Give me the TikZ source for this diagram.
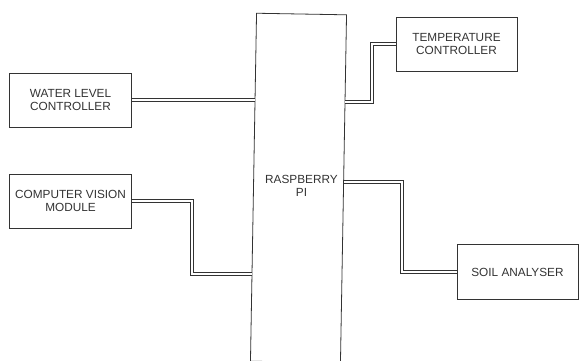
\documentclass[tikz,border=0pt]{standalone}
\usepackage{fontspec}
\setmainfont{Liberation Sans}
\usetikzlibrary{calc}

\tikzset{
  block/.style={draw=black!80, line width=0.8pt, minimum width=122pt, minimum height=54pt, align=center, inner sep=0pt},
  link/.style={draw=black!80, line width=1pt, double=white, double distance=2pt},
}

\begin{document}
\begin{tikzpicture}[x=1pt, y=-1pt, every node/.style={font=\fontsize{11.8}{13}\selectfont, text=black!80}]
% page
\clip (0,0) rectangle (579,360);
% raspberry pi (tilted a little, runs off the bottom)
\node[block, minimum width=90pt, minimum height=348pt, rotate=-1] (pi) at (298.5,188) {};
\node[align=center, inner sep=0pt] (pitext) at (301.5,186) {RASPBERRY\\PI};
% blocks round it
\node[block] (water) at (70.5,100) {WATER LEVEL\\CONTROLLER};
\node[block] (vision) at (70.5,201) {COMPUTER VISION\\MODULE};
\node[block, minimum width=121pt] (temp) at (456.5,44) {TEMPERATURE\\CONTROLLER};
\node[block, minimum width=121pt, minimum height=55pt] (soil) at (517.5,272) {SOIL ANALYSER};
% points on the pi edges
\coordinate (piw1) at ($(pi.north west)!0.2493!(pi.south west)$);
\coordinate (piw2) at ($(pi.north west)!0.7494!(pi.south west)$);
\coordinate (pie1) at ($(pi.north east)!0.2506!(pi.south east)$);
\coordinate (pie2) at ($(pi.north east)!0.4805!(pi.south east)$);
% links
\draw[link] (water.east) -- (water.east -| piw1);
\draw[link] (vision.east) -- ++(60.5,0) |- (piw2);
\draw[link] (temp.west) -- ++(-24,0) |- (pie1);
\draw[link] (soil.west) -- ++(-55,0) |- (pie2);
\end{tikzpicture}
\end{document}
